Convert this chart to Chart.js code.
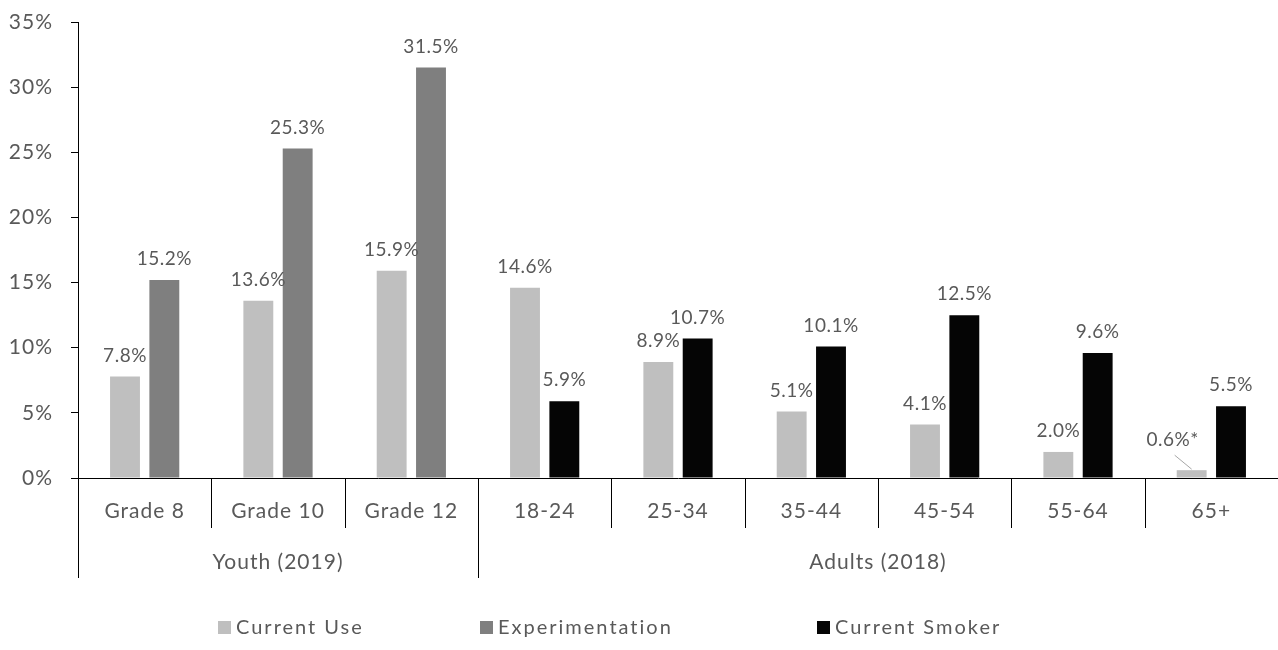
<!DOCTYPE html>
<html>
<head>
<meta charset="utf-8">
<script src="https://cdn.jsdelivr.net/npm/chart.js@4/dist/chart.umd.min.js"></script>
<style>
  body { margin: 0; background: #fff; }
  canvas { display: block; }
</style>
</head>
<body>
<canvas id="smokeChart" width="1278" height="650"></canvas>
<script>
const categories = ["Grade 8", "Grade 10", "Grade 12", "18-24", "25-34", "35-44", "45-54", "55-64", "65+"];
const groups = ["Youth (2019)", "Adults (2018)"];
const groupSizes = [3, 6];

const currentUse = [7.8, 13.6, 15.9, 14.6, 8.9, 5.1, 4.1, 2.0, 0.6];
const experimentation = [15.2, 25.3, 31.5, null, null, null, null, null, null];
const currentSmoker = [null, null, null, 5.9, 10.7, 10.1, 12.5, 9.6, 5.5];
// asterisk marks the unreliable estimate
const currentUseNotes = ["", "", "", "", "", "", "", "", "*"];

const yTicks = [0, 5, 10, 15, 20, 25, 30, 35];

const TEXT = "#595959";
const FONT = "Lato, 'Open Sans', sans-serif";

// excel-ish text is a bit looser than Lato
const spacing = {
  id: "spacing",
  beforeLayout(chart) { chart.ctx.letterSpacing = "1px"; },
  beforeDraw(chart) { chart.ctx.letterSpacing = "1px"; }
};

const barLabels = {
  id: "barLabels",
  afterDatasetsDraw(chart) {
    const ctx = chart.ctx;
    ctx.save();
    ctx.letterSpacing = "0.5px";
    ctx.font = "19px " + FONT;
    ctx.fillStyle = TEXT;
    ctx.textAlign = "center";
    ctx.textBaseline = "middle";
    chart.data.datasets.forEach((ds, di) => {
      const meta = chart.getDatasetMeta(di);
      meta.data.forEach((bar, i) => {
        const v = ds.data[i];
        if (v === null || v === undefined) return;
        const txt = v.toFixed(1) + "%" + (ds.notes ? ds.notes[i] : "");
        if (v < 1) {
          // small bar: label pulled up-left with a leader line
          ctx.fillText(txt, bar.x - 19, bar.y - 30);
          ctx.strokeStyle = "#a6a6a6";
          ctx.lineWidth = 1;
          ctx.beginPath();
          ctx.moveTo(bar.x - 17, bar.y - 15);
          ctx.lineTo(bar.x, bar.y - 1);
          ctx.stroke();
        } else {
          ctx.fillText(txt, bar.x, bar.y - 21);
        }
      });
    });
    ctx.restore();
  }
};

const groupAxis = {
  id: "groupAxis",
  afterDraw(chart) {
    const ctx = chart.ctx;
    const area = chart.chartArea;
    const w = (area.right - area.left) / categories.length;
    const bounds = [0];
    groupSizes.reduce((acc, n) => { bounds.push(acc + n); return acc + n; }, 0);

    ctx.save();
    ctx.strokeStyle = "#000";
    ctx.lineWidth = 1;
    for (let i = 0; i <= categories.length; i++) {
      const x = Math.round(area.left + i * w) + 0.5;
      const long = bounds.includes(i);
      ctx.beginPath();
      ctx.moveTo(x, area.bottom);
      ctx.lineTo(x, area.bottom + (long ? 100 : 50));
      ctx.stroke();
    }

    ctx.letterSpacing = "1px";
    ctx.font = "21px " + FONT;
    ctx.fillStyle = TEXT;
    ctx.textAlign = "center";
    ctx.textBaseline = "middle";
    groups.forEach((g, gi) => {
      const x0 = area.left + bounds[gi] * w;
      const x1 = area.left + bounds[gi + 1] * w;
      ctx.fillText(g, (x0 + x1) / 2, area.bottom + 84);
    });

    // legend, spaced like the original
    const legendX = [218, 480, 817];
    ctx.letterSpacing = "2px";
    ctx.font = "20px " + FONT;
    ctx.textAlign = "left";
    const y = 627;
    chart.data.datasets.forEach((ds, k) => {
      const x = legendX[k];
      ctx.fillStyle = ds.backgroundColor;
      ctx.fillRect(x, y - 6, 13, 13);
      ctx.fillStyle = TEXT;
      ctx.fillText(ds.label, x + 18, y + 1);
    });
    ctx.restore();
  }
};

new Chart(document.getElementById("smokeChart"), {
  type: "bar",
  data: {
    labels: categories,
    datasets: [
      { label: "Current Use", data: currentUse, notes: currentUseNotes, backgroundColor: "#bfbfbf" },
      { label: "Experimentation", data: experimentation, backgroundColor: "#7f7f7f" },
      { label: "Current Smoker", data: currentSmoker, backgroundColor: "#050505" }
    ]
  },
  options: {
    responsive: false,
    animation: false,
    skipNull: true,
    categoryPercentage: 0.59,
    barPercentage: 0.76,
    layout: { padding: { top: 22, right: 0, left: 0, bottom: 0 } },
    plugins: {
      legend: { display: false },
      tooltip: { enabled: false }
    },
    scales: {
      x: {
        grid: { display: true, drawOnChartArea: false, drawTicks: false },
        border: { color: "#000", width: 1 },
        ticks: { color: TEXT, font: { family: FONT, size: 21 }, padding: 21 },
        afterFit: (s) => { s.height = 172; s.paddingLeft = 0; s.paddingRight = 0; }
      },
      y: {
        min: 0,
        max: 35,
        afterBuildTicks: (s) => { s.ticks = yTicks.map((v) => ({ value: v })); },
        grid: { drawOnChartArea: false, tickLength: 7, color: "#000" },
        border: { color: "#000", width: 1 },
        ticks: {
          color: TEXT,
          font: { family: FONT, size: 21 },
          padding: 18,
          callback: (v) => v + "%"
        },
        afterFit: (s) => { s.width = 78; s.paddingTop = 0; s.paddingBottom = 0; }
      }
    }
  },
  plugins: [spacing, barLabels, groupAxis]
});
</script>
</body>
</html>
